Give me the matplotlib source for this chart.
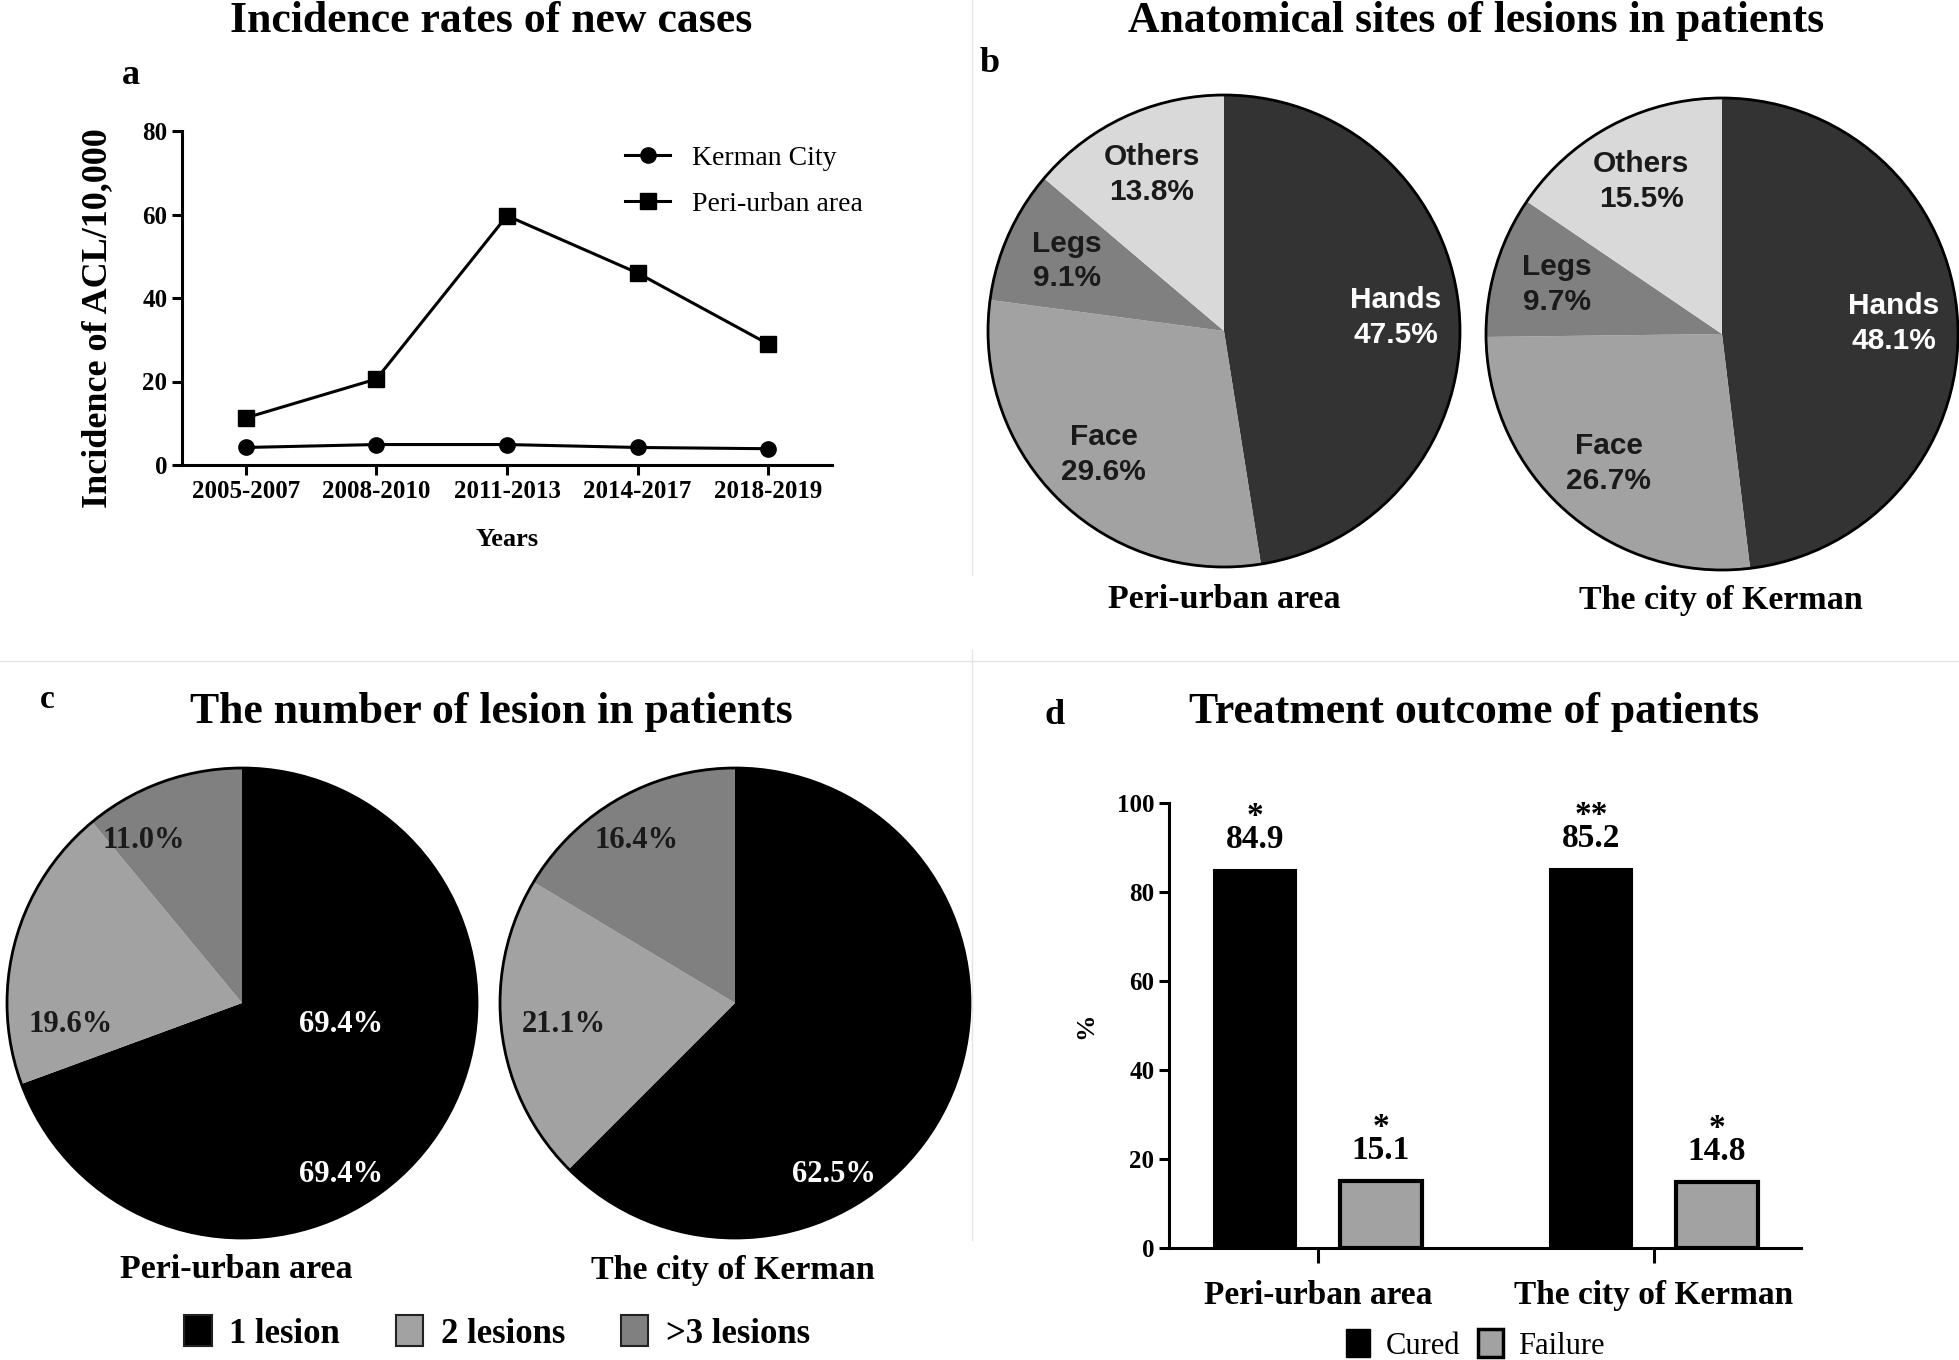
import numpy as np
import matplotlib
matplotlib.use('Agg')
import matplotlib.pyplot as plt
from matplotlib.patches import Circle, Patch
from matplotlib.lines import Line2D

plt.rcParams['font.family'] = 'Liberation Serif'
plt.rcParams['font.weight'] = 'bold'
plt.rcParams['axes.labelweight'] = 'bold'

# ---- data ----
periods = ['2005-2007', '2008-2010', '2011-2013', '2014-2017', '2018-2019']
kerman_city = [4.2, 4.9, 4.9, 4.2, 3.9]
peri_urban = [11.3, 20.6, 59.7, 46.0, 29.0]

site_names = ['Hands', 'Face', 'Legs', 'Others']
site_peri = [47.5, 29.6, 9.1, 13.8]
site_city = [48.1, 26.7, 9.7, 15.5]
site_colors = ['#333333', '#a2a2a2', '#808080', '#d9d9d9']

lesion_names = ['1 lesion', '2 lesions', '>3 lesions']
lesion_peri = [69.4, 19.6, 11.0]
lesion_city = [62.5, 21.1, 16.4]
lesion_colors = ['#000000', '#a2a2a2', '#808080']

areas = ['Peri-urban area', 'The city of Kerman']
cured = [84.9, 85.2]
failure = [15.1, 14.8]
cured_stars = ['*', '**']
failure_stars = ['*', '*']

W, H = 1959, 1360
fig = plt.figure(figsize=(W / 100, H / 100), dpi=100)


def add_ax(l, t, r, b):
    return fig.add_axes([l / W, 1 - b / H, (r - l) / W, (b - t) / H])


def ftext(x, y, s, **kw):
    fig.text(x / W, 1 - y / H, s, ha='center', va='center', **kw)


# separators
for seg in [((972, 972), (0, 575)), ((972, 972), (650, 1240)), ((0, W), (661, 661))]:
    fig.add_artist(Line2D([p / W for p in seg[0]], [1 - p / H for p in seg[1]],
                          color='#e4e4e4', lw=1))

# ---- a: line chart ----
ax = add_ax(182, 131, 832, 465)
x = np.arange(len(periods))
ax.plot(x, kerman_city, '-o', color='black', lw=2.2, ms=11, label='Kerman City')
ax.plot(x, peri_urban, '-s', color='black', lw=2.2, ms=11, label='Peri-urban area')
ax.set_xlim(-0.49, len(periods) - 0.51)
ax.set_ylim(0, 80)
ax.set_yticks([0, 20, 40, 60, 80])
ax.set_xticks(x)
ax.set_xticklabels(periods, fontsize=18)
ax.tick_params(axis='y', labelsize=18)
ax.tick_params(width=2.2, length=7)
for s in ['top', 'right']:
    ax.spines[s].set_visible(False)
for s in ['left', 'bottom']:
    ax.spines[s].set_linewidth(2.2)
ax.set_xlabel('Years', fontsize=19, labelpad=18)
ax.set_ylabel('Incidence of ACL/10,000', fontsize=26)
ax.yaxis.set_label_coords(-0.105, 0.44)
ax.legend(loc='upper left', bbox_to_anchor=(0.665, 0.99), frameon=False,
          prop={'family': 'Liberation Serif', 'weight': 'normal', 'size': 20},
          handlelength=1.6, labelspacing=0.75, borderaxespad=0)
ftext(491, 21, 'Incidence rates of new cases', fontsize=31.5)
ftext(131, 75, 'a', fontsize=26)

# ---- b: anatomical sites pies ----
def draw_pie(cx, cy, r, vals, colors):
    pax = add_ax(cx - r, cy - r, cx + r, cy + r)
    wedges, _ = pax.pie(vals, colors=colors, startangle=90, counterclock=False,
                        radius=1, wedgeprops=dict(linewidth=0))
    pax.add_patch(Circle((0, 0), 1, fill=False, ec='black', lw=2, clip_on=False))
    pax.set_xlim(-1, 1)
    pax.set_ylim(-1, 1)
    pax.set_aspect('equal')
    pax.axis('off')
    return pax, wedges


for (cx, cy), vals in [((1224, 331), site_peri), ((1722, 334), site_city)]:
    pax, wedges = draw_pie(cx, cy, 236, vals, site_colors)
    for w, name, v in zip(wedges, site_names, vals):
        ang = np.deg2rad((w.theta1 + w.theta2) / 2)
        col = 'white' if name == 'Hands' else '#1a1a1a'
        pax.text(0.73 * np.cos(ang), 0.73 * np.sin(ang), f'{name}\n{v}%',
                 ha='center', va='center', color=col, fontsize=21.5,
                 family='Liberation Sans', weight='bold', linespacing=1.3)

ftext(1476, 21, 'Anatomical sites of lesions in patients', fontsize=31.5)
ftext(990, 63, 'b', fontsize=26)
ftext(1224, 600, areas[0], fontsize=24.5)
ftext(1721, 600, areas[1], fontsize=24.5)

# ---- c: number of lesions pies ----
c_label_pos = [[(0.42, -0.73), (-0.73, -0.09), (-0.42, 0.69)],
               [(0.42, -0.73), (-0.73, -0.09), (-0.42, 0.69)]]
for i, ((cx, cy), vals) in enumerate([((242, 1003), lesion_peri), ((735, 1003), lesion_city)]):
    pax, wedges = draw_pie(cx, cy, 235, vals, lesion_colors)
    for j, v in enumerate(vals):
        px, py = c_label_pos[i][j]
        pax.text(px, py, f'{v:.1f}%', ha='center', va='center', fontsize=22,
                 color='white' if j == 0 else '#1a1a1a')
    if i == 0:
        pax.text(0.42, -0.09, f'{vals[0]:.1f}%', ha='center', va='center',
                 fontsize=22, color='white')

ftext(491, 712, 'The number of lesion in patients', fontsize=31.5)
ftext(47, 700, 'c', fontsize=24)
ftext(236, 1270, areas[0], fontsize=24.5)
ftext(733, 1270, areas[1], fontsize=24.5)
c_handles = [Patch(facecolor=c, edgecolor='#222222', lw=1.5) for c in lesion_colors]
fig.legend(c_handles, lesion_names, loc='center', bbox_to_anchor=(497 / W, 1 - 1333 / H),
           ncol=3, frameon=False, prop={'family': 'Liberation Serif', 'weight': 'bold', 'size': 25},
           handlelength=0.8, handleheight=1.0, handletextpad=0.5, columnspacing=1.6)

# ---- d: bar chart ----
bx = add_ax(1169, 803, 1801, 1248)
g = np.arange(len(areas))
off, bw = 0.1875, 0.244
b1 = bx.bar(g - off, cured, bw, color='black', edgecolor='black', lw=1.5)
b2 = bx.bar(g + off, failure, bw, color='#a2a2a2', edgecolor='black', lw=3)
bx.set_xlim(-0.443, 1.4375)
bx.set_ylim(0, 100)
bx.set_yticks([0, 20, 40, 60, 80, 100])
bx.set_xticks(g)
bx.set_xticklabels(areas, fontsize=24)
bx.tick_params(axis='y', labelsize=18, width=2.2, length=7)
bx.tick_params(axis='x', width=2.2, length=11, pad=12)
for s in ['top', 'right']:
    bx.spines[s].set_visible(False)
for s in ['left', 'bottom']:
    bx.spines[s].set_linewidth(2.2)
bx.set_ylabel('%', fontsize=19, labelpad=14)
for bars, vals, stars in [(b1, cured, cured_stars), (b2, failure, failure_stars)]:
    for bar, v, st in zip(bars, vals, stars):
        xc = bar.get_x() + bar.get_width() / 2
        # star and value as one two-line label
        bx.annotate(f'{st}\n{v}', (xc, v), xytext=(0, 11), textcoords='offset points',
                    ha='center', va='bottom', fontsize=24, linespacing=0.66)

ftext(1474, 712, 'Treatment outcome of patients', fontsize=31.5)
ftext(1055, 716, 'd', fontsize=26)
d_handles = [Patch(facecolor='black', edgecolor='black'),
             Patch(facecolor='#a2a2a2', edgecolor='black', lw=2.5)]
fig.legend(d_handles, ['Cured', 'Failure'], loc='center', bbox_to_anchor=(1475 / W, 1 - 1345 / H),
           ncol=2, frameon=False, prop={'family': 'Liberation Serif', 'weight': 'normal', 'size': 22},
           handlelength=0.8, handleheight=1.0, handletextpad=0.5, columnspacing=0.6)

fig.savefig('out.png', dpi=100)
